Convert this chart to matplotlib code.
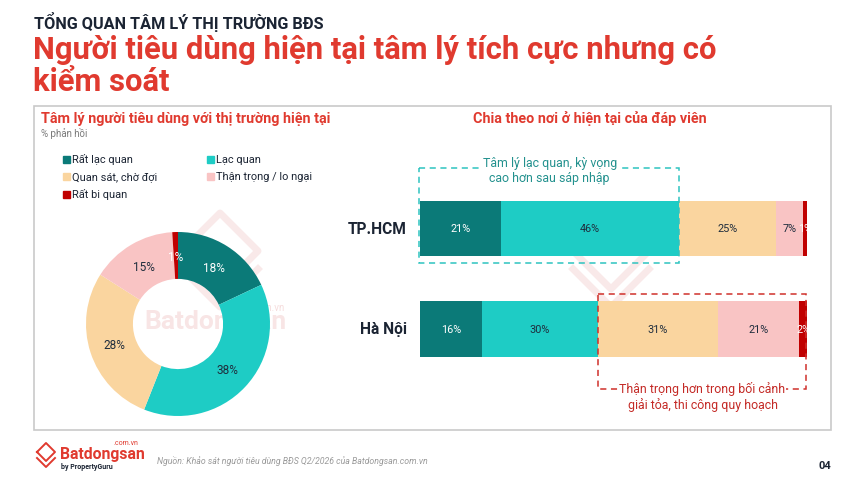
import numpy as np
import matplotlib.pyplot as plt
from matplotlib.patches import Rectangle

plt.rcParams['font.family'] = ['Roboto', 'DejaVu Sans']

# ---- data ----
categories = ['Rất lạc quan', 'Lạc quan', 'Quan sát, chờ đợi', 'Thận trọng / lo ngại', 'Rất bi quan']
colors = ['#0B7A78', '#1ECCC5', '#FAD59F', '#F9C4C4', '#C00000']
label_colors = ['white', '#1f2d3d', '#1f2d3d', '#1f2d3d', 'white']

overall = [18, 38, 28, 15, 1]

cities = ['TP.HCM', 'Hà Nội']
city_values = {
    'TP.HCM': [21, 46, 25, 7, 1],
    'Hà Nội': [16, 30, 31, 21, 2],
}

RED = '#E03A2F'
NAVY = '#1B2433'

W, H = 864, 485
fig = plt.figure(figsize=(W / 100, H / 100), dpi=100)

# background axes in pixel coordinates
bg = fig.add_axes([0, 0, 1, 1])
bg.set_xlim(0, W)
bg.set_ylim(H, 0)
bg.axis('off')


def px_rect(x0, y0, x1, y1):
    return [x0 / W, 1 - y1 / H, (x1 - x0) / W, (y1 - y0) / H]


# headings
bg.text(34, 22, 'TỔNG QUAN TÂM LÝ THỊ TRƯỜNG BĐS', fontsize=11.7, fontweight='bold',
        color=NAVY, va='center', ha='left')
bg.text(33, 50, 'Người tiêu dùng hiện tại tâm lý tích cực nhưng có', fontsize=22.3,
        fontweight='bold', color=RED, va='center', ha='left')
bg.text(33, 82, 'kiểm soát', fontsize=22.3, fontweight='bold', color=RED, va='center', ha='left')

# panel frame
bg.add_patch(Rectangle((34, 107), 797, 324, fill=False, ec='#c9c9c9', lw=1.2))

bg.text(41, 119, 'Tâm lý người tiêu dùng với thị trường hiện tại', fontsize=10.4,
        fontweight='bold', color=RED, va='center')
bg.text(41, 134, '% phản hồi', fontsize=7, color='#7a7a7a', va='center')
bg.text(590, 119, 'Chia theo nơi ở hiện tại của đáp viên', fontsize=10.4,
        fontweight='bold', color=RED, va='center', ha='center')

# legend
leg_pos = [(63, 160), (207, 160), (63, 177), (207, 177), (63, 195)]
for (lx, ly), cat, col in zip(leg_pos, categories, colors):
    bg.add_patch(Rectangle((lx, ly - 3.5), 7, 7, color=col))
    bg.text(lx + 9, ly, cat, fontsize=7.9, color=NAVY, va='center')

# ---- donut ----
ax_d = fig.add_axes(px_rect(86, 233, 270, 417))
wedges, _, autotexts = ax_d.pie(overall, colors=colors, startangle=90, counterclock=False,
                                radius=1, autopct='%d%%', pctdistance=0.73,
                                wedgeprops=dict(width=0.51, linewidth=0),
                                textprops=dict(fontsize=8.5))
for t, c in zip(autotexts, label_colors):
    t.set_color(c)
ax_d.set_xlim(-1, 1)
ax_d.set_ylim(-1, 1)
ax_d.set_aspect('equal')

# ---- stacked bars ----
ax_b = fig.add_axes(px_rect(420, 150, 807, 410))
ax_b.set_xlim(0, 100)
ax_b.set_ylim(1.796, -0.791)
ax_b.axis('off')
bar_h = 0.557
for i, city in enumerate(cities):
    vals = np.array(city_values[city])
    lefts = np.concatenate([[0], np.cumsum(vals)[:-1]])
    ax_b.barh(i, vals, left=lefts, height=bar_h, color=colors, linewidth=0)
    for v, l, tc in zip(vals, lefts, label_colors):
        ax_b.text(l + v / 2, i, f'{v}%', ha='center', va='center', fontsize=7.8, color=tc)
    ax_b.text(-3.4, i, city, ha='right', va='center', fontsize=11.2, fontweight='bold', color=NAVY)

# highlight boxes
hcm = np.array(city_values['TP.HCM'])
hn = np.array(city_values['Hà Nội'])
opt_end = hcm[:2].sum()
ax_b.add_patch(Rectangle((-0.3, -0.60), opt_end + 0.3, 0.945, fill=False, ec='#2EC4C0',
                         lw=1.1, ls=(0, (4, 3)), clip_on=False))
ax_b.text(opt_end / 2, -0.58, 'Tâm lý lạc quan, kỳ vọng\ncao hơn sau sáp nhập', ha='center',
          va='center', fontsize=8.9, color='#23918E', linespacing=1.2,
          bbox=dict(fc='white', ec='none', pad=0.5))

caut_start = hn[:2].sum()
ax_b.add_patch(Rectangle((caut_start, 0.652), hn.sum() - caut_start - 0.3, 0.945, fill=False,
                         ec='#D0302B', lw=1.1, ls=(0, (4, 3)), clip_on=False))
ax_b.text((caut_start + hn.sum()) / 2, 1.665, 'Thận trọng hơn trong bối cảnh\ngiải tỏa, thi công quy hoạch',
          ha='center', va='center', fontsize=8.9, color='#C42A26', linespacing=1.2,
          bbox=dict(fc='white', ec='none', pad=0.5))

# faint watermarks
wm = '#E8A9A9'
for cx, cy in [(215, 322), (606, 322)]:
    bg.text(cx, cy, 'Batdongsan', fontsize=19, fontweight='bold', color=wm, alpha=0.3,
            ha='center', va='center', zorder=10)
    bg.text(cx + 52, cy - 14, '.com.vn', fontsize=7, color=wm, alpha=0.4,
            ha='center', va='center', zorder=10)
    hx, hy = cx + 5, cy - 70
    bg.plot([hx - 38, hx, hx + 38, hx, hx - 38], [hy, hy - 38, hy, hy + 38, hy],
            color=wm, alpha=0.25, lw=5, zorder=10)
    bg.plot([hx - 38, hx, hx + 38], [hy + 18, hy + 56, hy + 18],
            color=wm, alpha=0.25, lw=5, zorder=10)

# ---- footer ----
lx, ly = 46, 456
bg.plot([lx - 9, lx, lx + 9, lx, lx - 9], [ly - 3, ly - 12, ly - 3, ly + 6, ly - 3],
        color='#E03A2F', lw=1.4)
bg.plot([lx - 9, lx, lx + 9], [ly + 3, ly + 12, ly + 3], color='#E03A2F', lw=1.4)
bg.text(60, 455, 'Batdongsan', fontsize=11.3, fontweight='bold', color='#E03A2F', va='center')
bg.text(138, 444, '.com.vn', fontsize=5, color='#E03A2F', va='center', ha='right')
bg.text(61, 467, 'by PropertyGuru', fontsize=5, fontweight='bold', color=NAVY, va='center')
bg.text(157, 461, 'Nguồn: Khảo sát người tiêu dùng BĐS Q2/2026 của Batdongsan.com.vn',
        fontsize=6.3, style='italic', color='#9a9a9a', va='center')
bg.text(825, 466, '04', fontsize=8, fontweight='bold', color=NAVY, va='center', ha='center')

fig.savefig('out.png', dpi=100)
